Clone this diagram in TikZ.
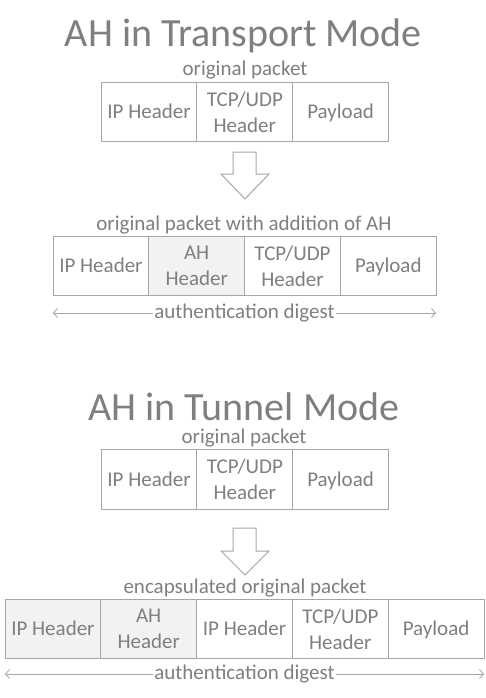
\documentclass[tikz,border=0pt]{standalone}
\usepackage{fontspec}
\setmainfont{Carlito}
\usepackage{xcolor}
\usetikzlibrary{positioning,arrows.meta}
\definecolor{txtgray}{HTML}{7F7F7F}
\definecolor{linegray}{HTML}{A6A6A6}
\definecolor{ahfill}{HTML}{F2F2F2}
\newcommand\cellstrut{\rule[-6pt]{0pt}{25pt}}
\tikzset{
  cell/.style={draw=linegray, line width=1pt, minimum width=95.8pt, minimum height=59.5pt,
    inner sep=0pt, outer sep=0pt, align=center, text=txtgray, font=\fontsize{21}{26}\selectfont},
  single/.style={cell, execute at begin node=\cellstrut},
  ahcell/.style={cell, fill=ahfill},
  caption/.style={anchor=base, inner sep=0pt, text=txtgray, font=\fontsize{21}{26}\selectfont},
  heading/.style={anchor=base, inner sep=0pt, text=txtgray, font=\fontsize{40}{46}\selectfont},
  digest/.style={draw=linegray, line width=0.8pt,
    {Straight Barb[length=4pt,width=9pt]}-{Straight Barb[length=4pt,width=9pt]}},
  digestlabel/.style={fill=white, inner sep=1.5pt, text=txtgray, font=\fontsize{21}{26}\selectfont},
  blockarrow/.style={draw=linegray, line width=1pt, fill=white, line join=miter}
}

\begin{document}
\begin{tikzpicture}[x=1pt,y=-1pt,node distance=0pt]
    \useasboundingbox[fill=white] (0,0) rectangle (485,698);

    \node[heading] (trTitle) at (243.5,47) {AH in Transport Mode};
    \node[caption] (trCapA) at (245,76) {original packet};
    \node[single] (trIP) at (149,112) {IP Header};
    \node[cell] (trTCP) [right = of trIP] {TCP/UDP\\Header};
    \node[single] (trPay) [right = of trTCP] {Payload};
    \coordinate (trArrow) at (233,152);
    \draw[blockarrow] (trArrow) -- ++(23,0) -- ++(0,22) -- ++(13,0) -- ++(-24,25)
        -- ++(-24,-25) -- ++(12,0) -- cycle;
    \node[caption] (trCapB) at (244,230) {original packet with addition of AH};
    \node[single] (trIPb) at (100.9,266) {IP Header};
    \node[ahcell] (trAH) [right = of trIPb] {AH\\Header};
    \node[cell] (trTCPb) [right = of trAH] {TCP/UDP\\Header};
    \node[single] (trPayb) [right = of trTCPb] {Payload};
    \coordinate (trDL) at (53,313);
    \coordinate (trDR) at (436,313);
    \draw[digest] (trDL) -- node[digestlabel] {authentication digest} (trDR);

    \node[heading] (tuTitle) at (244,420) {AH in Tunnel Mode};
    \node[caption] (tuCapA) at (244,443) {original packet};
    \node[single] (tuIP) at (149,479.5) {IP Header};
    \node[cell] (tuTCP) [right = of tuIP] {TCP/UDP\\Header};
    \node[single] (tuPay) [right = of tuTCP] {Payload};
    \coordinate (tuArrow) at (233,528);
    \draw[blockarrow] (tuArrow) -- ++(23,0) -- ++(0,23) -- ++(13,0) -- ++(-24,24)
        -- ++(-24,-24) -- ++(12,0) -- cycle;
    \node[caption] (tuCapB) at (245,593) {encapsulated original packet};
    \node[single, fill=ahfill] (tuNewIP) at (52.9,629) {IP Header};
    \node[ahcell] (tuAH) [right = of tuNewIP] {AH\\Header};
    \node[single] (tuIPb) [right = of tuAH] {IP Header};
    \node[cell] (tuTCPb) [right = of tuIPb] {TCP/UDP\\Header};
    \node[single] (tuPayb) [right = of tuTCPb] {Payload};
    \coordinate (tuDL) at (5,674);
    \coordinate (tuDR) at (484,674);
    \draw[digest] (tuDL) -- node[digestlabel] {authentication digest} (tuDR);
\end{tikzpicture}
\end{document}
